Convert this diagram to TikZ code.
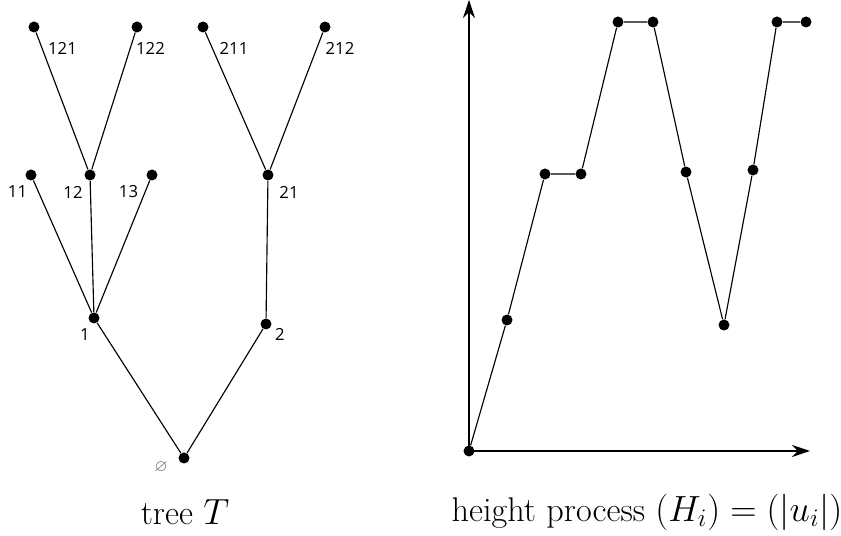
\documentclass[tikz,border=0pt]{standalone}
\usepackage{amsmath}
\usepackage{amssymb}
\usepackage{fontspec}
\newfontfamily\labfont{Open Sans}
\usetikzlibrary{arrows.meta}

\begin{document}
\begin{tikzpicture}[
  dot/.style={circle, fill=black, inner sep=0pt, minimum size=0.22cm},
  edge/.style={line width=0.65pt},
  lab/.style={font=\labfont\fontsize{9.5}{11}\selectfont, inner sep=0pt},
  axis/.style={-{Stealth[length=0.36cm, width=0.24cm]}, line width=0.65pt},
  caption/.style={font=\fontsize{19.5}{23}\selectfont, inner sep=0pt}
]
  \useasboundingbox (0,0) rectangle (16.82,10.72);

  % tree T
  \node[dot] (root) at (3.68,1.56) {};
  \node[dot] (n1) at (1.88,4.36) {};
  \node[dot] (n2) at (5.32,4.24) {};
  \node[dot] (n11) at (0.62,7.22) {};
  \node[dot] (n12) at (1.80,7.22) {};
  \node[dot] (n13) at (3.04,7.22) {};
  \node[dot] (n21) at (5.36,7.22) {};
  \node[dot] (n121) at (0.68,10.18) {};
  \node[dot] (n122) at (2.74,10.18) {};
  \node[dot] (n211) at (4.06,10.18) {};
  \node[dot] (n212) at (6.50,10.18) {};

  \draw[edge] (root) -- (n1);
  \draw[edge] (root) -- (n2);
  \draw[edge] (n1) -- (n11);
  \draw[edge] (n1) -- (n12);
  \draw[edge] (n1) -- (n13);
  \draw[edge] (n2) -- (n21);
  \draw[edge] (n12) -- (n121);
  \draw[edge] (n12) -- (n122);
  \draw[edge] (n21) -- (n211);
  \draw[edge] (n21) -- (n212);

  \node[lab, text=black!60] (lroot) at (3.22,1.38) {$\varnothing$};
  \node[lab] (l1) at (1.70,4.02) {1};
  \node[lab] (l2) at (5.60,4.04) {2};
  \node[lab] (l11) at (0.35,6.88) {11};
  \node[lab] (l12) at (1.46,6.88) {12};
  \node[lab] (l13) at (2.57,6.88) {13};
  \node[lab] (l21) at (5.78,6.88) {21};
  \node[lab] (l121) at (1.25,9.76) {121};
  \node[lab] (l122) at (3.01,9.76) {122};
  \node[lab] (l211) at (4.68,9.76) {211};
  \node[lab] (l212) at (6.80,9.76) {212};

  \node[caption] (capT) at (3.70,0.48) {tree $T$};

  % height process
  \coordinate (ytop) at (9.38,10.72);
  \coordinate (xend) at (16.20,1.70);
  \node[dot] (h0) at (9.38,1.70) {};
  \node[dot] (h1) at (10.14,4.32) {};
  \node[dot] (h2) at (10.90,7.24) {};
  \node[dot] (h3) at (11.62,7.24) {};
  \node[dot] (h4) at (12.36,10.28) {};
  \node[dot] (h5) at (13.06,10.28) {};
  \node[dot] (h6) at (13.72,7.28) {};
  \node[dot] (h7) at (14.48,4.22) {};
  \node[dot] (h8) at (15.06,7.32) {};
  \node[dot] (h9) at (15.54,10.28) {};
  \node[dot] (h10) at (16.12,10.28) {};

  \draw[axis] (h0.center) -- (ytop);
  \draw[axis] (h0.center) -- (xend);
  \draw[edge] (h0) -- (h1) -- (h2) -- (h3) -- (h4) -- (h5) -- (h6)
    -- (h7) -- (h8) -- (h9) -- (h10);

  \node[caption] (capH) at (12.94,0.48) {height process $(H_i)=(|u_i|)$};
\end{tikzpicture}
\end{document}
